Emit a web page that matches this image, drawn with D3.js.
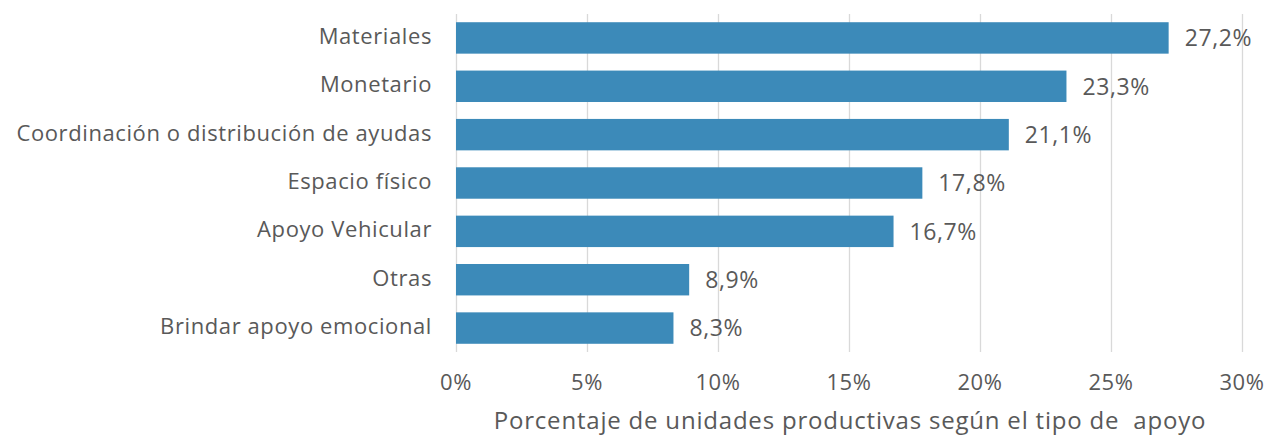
<!DOCTYPE html>
<meta charset="utf-8">
<style>
body { margin: 0; background: #fff; }
text { font-family: "Open Sans", sans-serif; fill: #595959; }
.grid line { stroke: #d9d9d9; stroke-width: 1.3px; }
.grid path { display: none; }
</style>
<body>
<script src="https://cdn.jsdelivr.net/npm/d3@7"></script>
<script>

var categorias = ["Materiales", "Monetario", "Coordinación o distribución de ayudas",
  "Espacio físico", "Apoyo Vehicular", "Otras", "Brindar apoyo emocional"];
var valores = [27.2, 23.3, 21.1, 17.8, 16.7, 8.9, 8.3];
var ticks = [0, 5, 10, 15, 20, 25, 30];
var tituloX = "Porcentaje de unidades productivas según el tipo de  apoyo";

var width = 1268, height = 437;
var margin = {top: 14, right: 26, bottom: 85, left: 456};

var x = d3.scaleLinear().domain([0, 30]).range([margin.left, width - margin.right]);
var y = d3.scaleBand().domain(categorias)
    .range([margin.top, height - margin.bottom])
    .paddingInner(0.35).paddingOuter(0.17);

var svg = d3.select("body").append("svg")
    .attr("width", width)
    .attr("height", height);

svg.append("g")
    .attr("class", "grid")
    .attr("transform", "translate(0," + (height - margin.bottom) + ")")
    .call(d3.axisBottom(x).tickValues(ticks).tickSize(-(height - margin.bottom - margin.top)).tickFormat(""));

svg.selectAll(".bar")
    .data(valores)
  .enter().append("rect")
    .attr("class", "bar")
    .attr("x", x(0))
    .attr("y", function(d, i) { return y(categorias[i]); })
    .attr("width", function(d) { return x(d) - x(0); })
    .attr("height", y.bandwidth())
    .attr("fill", "#3c8ab9");

var fmt = function(d) { return d.toFixed(1).replace(".", ",") + "%"; };

svg.selectAll(".val")
    .data(valores)
  .enter().append("text")
    .attr("x", function(d) { return x(d) + 16; })
    .attr("y", function(d, i) { return y(categorias[i]) + y.bandwidth() / 2; })
    .attr("dy", "0.36em")
    .style("font-size", "23px")
    .style("letter-spacing", "0.6px")
    .text(fmt);

svg.selectAll(".cat")
    .data(categorias)
  .enter().append("text")
    .attr("x", margin.left - 24)
    .attr("y", function(d) { return y(d) + y.bandwidth() / 2 - 2; })
    .attr("dy", "0.36em")
    .attr("text-anchor", "end")
    .style("font-size", "22px")
    .style("letter-spacing", "0.6px")
    .text(function(d) { return d; });

svg.selectAll(".tick-label")
    .data(ticks)
  .enter().append("text")
    .attr("x", function(d) { return x(d); })
    .attr("y", 390)
    .attr("text-anchor", "middle")
    .style("font-size", "22px")
    .style("letter-spacing", "0.6px")
    .text(function(d) { return d + "%"; });

svg.append("text")
    .attr("x", (x(0) + x(30)) / 2 + 1)
    .attr("y", 429)
    .attr("text-anchor", "middle")
    .style("font-size", "24px")
    .style("letter-spacing", "0.8px")
    .style("white-space", "pre")
    .text(tituloX);

</script>
